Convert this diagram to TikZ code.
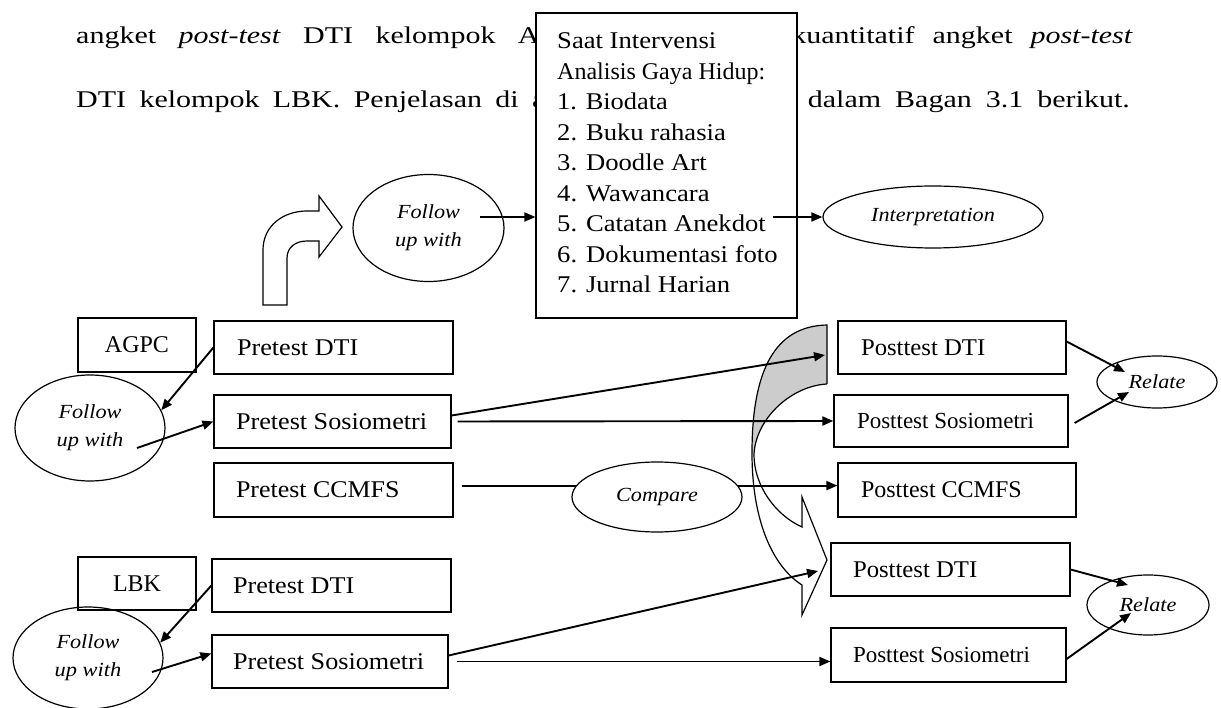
\documentclass[tikz,border=0pt]{standalone}
\usepackage{fontspec}
\usepackage{graphicx}
\setmainfont{Liberation Serif}
\usetikzlibrary{shapes.geometric,arrows.meta}
\newcommand\lbx[2]{\makebox[#1][l]{#2}}
\newcommand\hs[2]{\scalebox{#1}[1]{#2}}
\begin{document}
\begin{tikzpicture}[x=1pt,y=-1pt,
  box/.style={draw, line width=1.2pt, inner ysep=0pt, anchor=center},
  pre/.style={font={\fontsize{24}{28}\selectfont}},
  post/.style={font={\fontsize{24}{28}\selectfont}},
  oval/.style={draw, ellipse, line width=1.2pt, inner sep=0pt, align=center,
    font={\itshape\fontsize{20}{28}\selectfont}},
  para/.style={inner sep=0pt, font={\fontsize{24}{28}\selectfont}},
  item/.style={anchor=base west, inner sep=0pt, font={\fontsize{24}{28}\selectfont}},
  arr/.style={line width=1.9pt, -{Triangle[length=11pt,width=9pt]}},
  link/.style={line width=1.9pt},
  shapeline/.style={line width=1.2pt, line join=miter}
]
\fill[white] (0,0) rectangle (1221,708);
\useasboundingbox (0,0) rectangle (1221,708);

% paragraph text (partly hidden by the box)
\node[para, anchor=base west] (p2a) at (76,44) {\hs{1.25}{\spaceskip=17.9pt angket \textit{post-test} DTI kelompok A}};
\node[para, anchor=base east] (p2b) at (1133,44) {\hs{1.25}{\spaceskip=14.4pt kuantitatif angket \textit{post-test}}};
\node[para, anchor=base west] (p3a) at (76,108) {\hs{1.25}{\spaceskip=10.7pt DTI kelompok LBK. Penjelasan di a}};
\node[para, anchor=base east] (p3b) at (1130,108) {\hs{1.25}{\spaceskip=11.2pt dalam Bagan 3.1 berikut.}};

% big box
\node[draw, fill=white, line width=1.2pt, minimum width=261pt, minimum height=305pt, inner sep=0pt] (bigbox) at (666.5,165.5) {};
\node[item] (l1) at (557,49) {\hs{1.11}{Saat Intervensi}};
\node[item] (l2) at (557,79.5) {Analisis Gaya Hidup:};
\node[item] (l3) at (557,110) {\hs{1.1}{1. Biodata}};
\node[item] (l4) at (557,140.5) {\hs{1.11}{2. Buku rahasia}};
\node[item] (l5) at (557,171) {\hs{1.11}{3. Doodle Art}};
\node[item] (l6) at (557,201.5) {\hs{1.11}{4. Wawancara}};
\node[item] (l7) at (557,232) {\hs{1.11}{5. Catatan Anekdot}};
\node[item] (l8) at (557,262.5) {\hs{1.11}{6. Dokumentasi foto}};
\node[item] (l9) at (557,293) {\hs{1.11}{7. Jurnal Harian}};

% bent arrow (up then right)
\draw[shapeline] (263,305) -- (263,250) .. controls (263,226) and (283,211) .. (307,211)
  -- (319,211) -- (319,196) -- (342,227) -- (319,257) -- (319,241) -- (307,241)
  .. controls (296,241) and (287,247) .. (287,258) -- (287,305) -- cycle;

% curved arrow on the right
\fill[gray!40] (827,325) .. controls (775,326) and (752,370) .. (752,453)
  -- (754,455) .. controls (755,420) and (790,386) .. (827,384) -- cycle;
\draw[shapeline] (827,384) -- (827,325) .. controls (775,326) and (752,370) .. (752,453)
  .. controls (752,525) and (775,568) .. (802,585) -- (802,615) -- (827,560) -- (802,497) -- (802,527)
  .. controls (775,515) and (754,485) .. (754,455) .. controls (755,420) and (790,386) .. (827,384);

% ellipses
\node[oval, minimum width=151pt, minimum height=107pt] (tfol) at (428.5,228) {\hs{1.11}{Follow}\\\hs{1.12}{up with}};
\node[oval, minimum width=220pt, minimum height=62pt] (interp) at (933,217) {\hs{1.11}{Interpretation}};
\node[oval, minimum width=150pt, minimum height=106pt] (afol) at (90,428) {\hs{1.11}{Follow}\\\hs{1.12}{up with}};
\node[oval, minimum width=150pt, minimum height=102pt] (bfol) at (88,658) {\hs{1.11}{Follow}\\\hs{1.12}{up with}};
\node[oval, minimum width=170pt, minimum height=70pt] (cmp) at (657,497) {\hs{1.11}{Compare}};
\node[oval, minimum width=120pt, minimum height=52pt] (rel1) at (1157,382) {\hs{1.11}{Relate}};
\node[oval, minimum width=122pt, minimum height=60pt] (rel2) at (1148,605) {\hs{1.11}{Relate}};

% boxes
\node[box, post, minimum width=118pt, minimum height=54pt] (agpc) at (137,345) {AGPC};
\node[box, post, minimum width=118pt, minimum height=53pt] (lbk) at (137,583.5) {LBK};
\node[box, pre, minimum height=53pt, inner xsep=23pt] (apdti) at (333.5,347.5) {\lbx{193pt}{\hs{1.09}{Pretest DTI}}};
\node[box, pre, minimum height=53pt, inner xsep=22pt] (apsos) at (332.5,421.5) {\lbx{193pt}{\hs{1.09}{Pretest Sosiometri}}};
\node[box, pre, minimum height=54pt, inner xsep=22pt] (apcc) at (333.5,490) {\lbx{195pt}{\hs{1.08}{Pretest CCMFS}}};
\node[box, pre, minimum height=53pt, inner xsep=21pt] (bpdti) at (331.5,585.5) {\lbx{197pt}{\hs{1.09}{Pretest DTI}}};
\node[box, pre, minimum height=53pt, inner xsep=21pt] (bpsos) at (330,661.5) {\lbx{194pt}{\hs{1.09}{Pretest Sosiometri}}};
\node[box, post, minimum height=53pt, inner xsep=23pt] (ppdti) at (952,347.5) {\lbx{182pt}{\hs{1.03}{Posttest DTI}}};
\node[box, post, font={\fontsize{23}{28}\selectfont}, minimum height=52pt, inner xsep=23pt] (ppsos) at (951,421) {\lbx{188pt}{Posttest Sosiometri}};
\node[box, post, minimum height=54pt, inner xsep=23pt] (ppcc) at (957,490) {\lbx{192pt}{Posttest CCMFS}};
\node[box, post, minimum height=53pt, inner xsep=22pt] (qpdti) at (950.5,569.5) {\lbx{195pt}{\hs{1.03}{Posttest DTI}}};
\node[box, post, font={\fontsize{23}{28}\selectfont}, minimum height=54pt, inner xsep=22pt] (qpsos) at (948.5,655) {\lbx{191pt}{Posttest Sosiometri}};

% free ends
\coordinate (tfs) at (480,217);
\coordinate (bxs) at (773,217);
\coordinate (afs) at (137,448);
\coordinate (bfs) at (152,672);
\coordinate (ct1) at (825,355);
\coordinate (cah) at (818,571);
\coordinate (r1a) at (1125,372);
\coordinate (r1b) at (1129,392);
\coordinate (r2a) at (1128,585);
\coordinate (r2b) at (1131,613);

% connectors
\draw[arr] (tfs) -- (tfs -| bigbox.west);
\draw[arr] (bxs) -- (interp.west);
\draw[arr] (apdti.west) -- (afol.14);
\draw[arr] (afs) -- (apsos.west);
\draw[arr] ([yshift=6pt]apsos.east) -- (ct1);
\draw[arr, shorten <=6pt] (apsos.east) -- (ppsos.west);
\draw[link, shorten <=8pt] (cmp.172 -| apcc.east) -- (cmp.172);
\draw[arr] (cmp.8) -- (cmp.8 -| ppcc.west);
\draw[arr] ([yshift=6pt]ppdti.east) -- (r1a);
\draw[arr] ([xshift=6pt,yshift=-2pt]ppsos.east) -- (r1b);
\draw[arr] (bpdti.west) -- (bfol.12);
\draw[arr] (bfs) -- ([yshift=8pt]bpsos.west);
\draw[arr] ([yshift=6pt]bpsos.east) -- (cah);
\draw[arr, shorten <=8pt] (bpsos.east) -- (bpsos.east -| qpsos.west);
\draw[arr] (qpdti.east) -- (r2a);
\draw[arr] ([yshift=-4pt]qpsos.east) -- (r2b);
\end{tikzpicture}
\end{document}
